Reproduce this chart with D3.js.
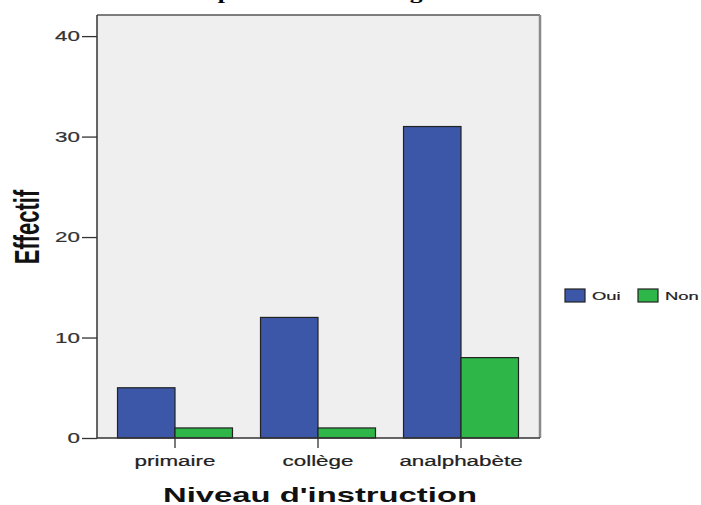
<!DOCTYPE html>
<html>
<head>
<meta charset="utf-8">
<script src="https://cdn.jsdelivr.net/npm/d3@7"></script>
<style>
  html, body { margin: 0; padding: 0; background: #ffffff; }
  svg { display: block; }
</style>
</head>
<body>
<svg id="chart" width="701" height="505"></svg>
<script>
// ---- data ----
const categories = ["primaire", "collège", "analphabète"];
const seriesNames = ["Oui", "Non"];
const ouiValues = [5, 12, 31];
const nonValues = [1, 1, 8];
const yTicks = [0, 10, 20, 30, 40];
const titleText = "Répartition selon l'âge";
const xTitle = "Niveau d'instruction";
const yTitle = "Effectif";

// ---- layout / style ----
const SX = 1.6; // horizontal stretch of all text in the reference
const plot = { left: 97, right: 540, top: 15, bottom: 438 };
const colors = { Oui: "#3d57a8", Non: "#2eb649" };
const sans = "'Liberation Sans', Arial, sans-serif";
const serif = "'Liberation Serif', 'Times New Roman', serif";

const svg = d3.select("#chart");

const y = d3.scaleLinear().domain([0, 42.1]).range([plot.bottom, plot.top]);
const x0 = d3.scaleBand().domain(categories).range([103.5, 532.5])
  .paddingInner(0.196).paddingOuter(0.098);
const x1 = d3.scaleBand().domain(seriesNames).range([0, x0.bandwidth()]);

const rows = categories.map((c, i) => ({ cat: c, values: [
  { key: "Oui", value: ouiValues[i] }, { key: "Non", value: nonValues[i] } ] }));

// title (mostly cut off at the top edge, as in the reference)
svg.append("text")
  .attr("transform", `translate(188,-1.5) scale(${SX},1)`)
  .attr("font-family", serif).attr("font-weight", "bold").attr("font-size", 16)
  .attr("fill", "#000").text(titleText);

// plot background
svg.append("rect")
  .attr("x", plot.left).attr("y", plot.top)
  .attr("width", plot.right - plot.left).attr("height", plot.bottom - plot.top)
  .attr("fill", "#efefef");

// top & right frame
svg.append("line").attr("x1", plot.left).attr("x2", plot.right)
  .attr("y1", plot.top).attr("y2", plot.top)
  .attr("stroke", "#555").attr("stroke-width", 1.5);
svg.append("line").attr("x1", plot.right).attr("x2", plot.right)
  .attr("y1", plot.top).attr("y2", plot.bottom)
  .attr("stroke", "#8a8a8a").attr("stroke-width", 2.5);

// bars
const groups = svg.append("g").selectAll("g").data(rows).join("g")
  .attr("transform", d => `translate(${x0(d.cat)},0)`);
groups.selectAll("rect").data(d => d.values).join("rect")
  .attr("x", d => x1(d.key))
  .attr("y", d => y(d.value))
  .attr("width", x1.bandwidth())
  .attr("height", d => y(0) - y(d.value))
  .attr("fill", d => colors[d.key])
  .attr("stroke", "#222").attr("stroke-width", 1.2);

// y axis
const yAxis = svg.append("g").attr("transform", `translate(${plot.left},0)`)
  .call(d3.axisLeft(y).tickValues(yTicks).tickSize(15).tickPadding(2).tickSizeOuter(0));
yAxis.select(".domain").attr("stroke", "#333").attr("stroke-width", 1.5)
  .attr("d", `M0,${plot.top}V${plot.bottom}`);
yAxis.selectAll(".tick line").attr("stroke", "#333").attr("stroke-width", 1.3);
yAxis.selectAll(".tick text")
  .attr("font-family", sans).attr("font-size", 14).attr("fill", "#333")
  .attr("stroke", "#333").attr("stroke-width", 0.2)
  .each(function () {
    const t = d3.select(this);
    const xx = +t.attr("x");
    t.attr("x", 0).attr("transform", `translate(${xx},0) scale(${SX},1)`);
  });

// x axis
const xAxis = svg.append("g").attr("transform", `translate(0,${plot.bottom})`)
  .call(d3.axisBottom(x0).tickSize(10).tickPadding(10));
xAxis.select(".domain").attr("stroke", "#333").attr("stroke-width", 1.5)
  .attr("d", `M${plot.left},0H${plot.right}`);
xAxis.selectAll(".tick line").attr("stroke", "#333").attr("stroke-width", 1.3);
xAxis.selectAll(".tick text")
  .attr("font-family", sans).attr("font-size", 14).attr("fill", "#222")
  .attr("stroke", "#222").attr("stroke-width", 0.2)
  .attr("dy", null).attr("y", 0)
  .attr("transform", `translate(0,28) scale(${SX},1)`);

// axis titles
svg.append("text")
  .attr("transform", `translate(320,502) scale(${SX},1)`)
  .attr("text-anchor", "middle")
  .attr("font-family", sans).attr("font-weight", "bold").attr("font-size", 20.5)
  .attr("fill", "#111").text(xTitle);
svg.append("text")
  .attr("transform", `translate(39,227) scale(${SX},1) rotate(-90)`)
  .attr("text-anchor", "middle")
  .attr("font-family", sans).attr("font-weight", "bold").attr("font-size", 22)
  .attr("fill", "#111").text(yTitle);

// legend
const legendPos = { Oui: 565, Non: 638 };
const legend = svg.append("g").selectAll("g").data(seriesNames).join("g")
  .attr("transform", d => `translate(${legendPos[d]},289)`);
legend.append("rect").attr("width", 20).attr("height", 13)
  .attr("fill", d => colors[d]).attr("stroke", "#222").attr("stroke-width", 1.2);
legend.append("text")
  .attr("transform", `translate(27,11) scale(${SX},1)`)
  .attr("font-family", sans).attr("font-size", 11.5).attr("fill", "#222")
  .attr("stroke", "#222").attr("stroke-width", 0.2)
  .text(d => d);
</script>
</body>
</html>
